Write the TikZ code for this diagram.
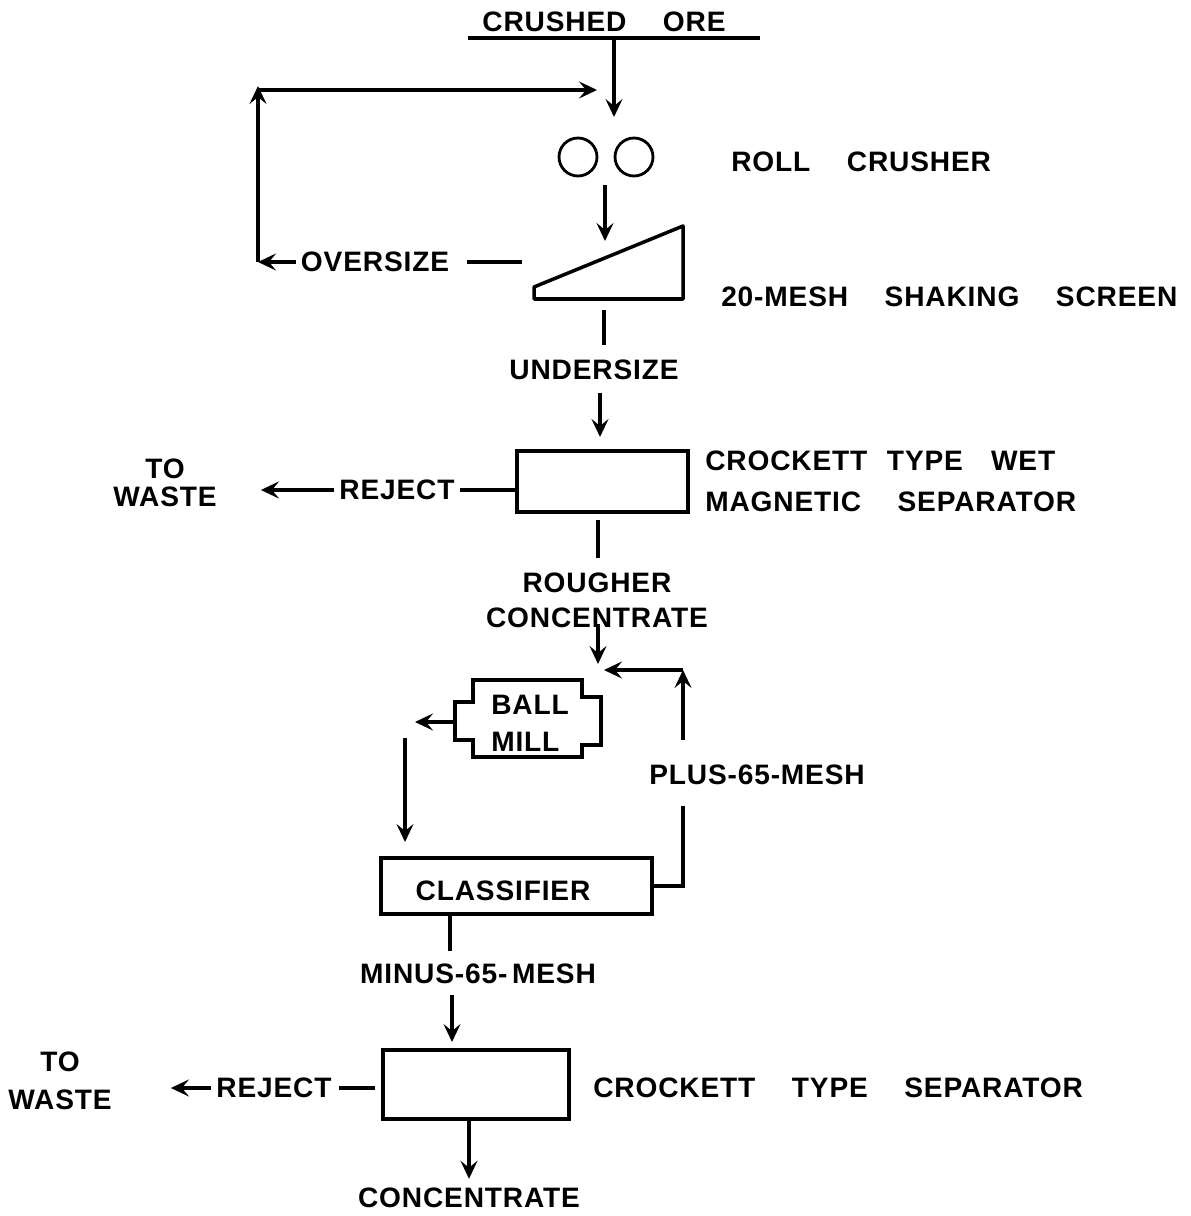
\documentclass[tikz,border=0pt]{standalone}
\usepackage{fontspec}
\setsansfont{Liberation Sans}[LetterSpace=3]
\usetikzlibrary{arrows.meta, positioning}
\newcommand\labfont{\sffamily\bfseries\fontsize{16}{20}\selectfont\spaceskip=1.3em\relax}
\tikzset{
  every picture/.style={line width=2pt},
  lab/.style={font=\labfont, inner sep=2pt, align=center},
  unit/.style={draw, inner sep=0pt},
  flow/.style={-{Stealth[length=3.6mm, width=3.4mm, inset=1.4mm]}},
}

\begin{document}
\begin{tikzpicture}[x=0.02cm, y=-0.02cm]
  \useasboundingbox (0,0) rectangle (1190,1216);
  % feed and roll crusher
  \node[lab] (ore) at (604,22) {CRUSHED ORE};
  \coordinate (oreL) at (468,38);
  \coordinate (oreR) at (760,38);
  \draw (oreL) -- (oreR);
  \coordinate (feed) at (614,38);
  \coordinate (crushin) at (614,117);
  \draw[flow] (feed) -- (crushin);
  \foreach \i/\x in {1/578,2/634} \node[unit, circle, line width=1.6pt, minimum size=0.76cm] (roll\i) at (\x,157) {};
  \node[lab, anchor=west] (crusher) at (726,162) {ROLL CRUSHER};
  \coordinate (crushout) at (605,185);
  \coordinate (screenin) at (605,241);
  \draw[flow] (crushout) -- (screenin);
  % shaking screen
  \coordinate (scrA) at (534,287);
  \coordinate (scrB) at (683,226);
  \coordinate (scrC) at (683,299);
  \coordinate (scrD) at (534,299);
  \draw[line join=round] (scrA) -- (scrB) -- (scrC) -- (scrD) -- cycle;
  \node[lab, anchor=west] (screen) at (716,297) {20-MESH SHAKING SCREEN};
  % oversize back to crusher
  \node[lab] (over) at (375,262) {OVERSIZE};
  \coordinate (overout) at (522,262);
  \draw[shorten >=0.25cm] (overout) -- (over.east);
  \coordinate (loopB) at (258,262);
  \coordinate (loopT) at (258,86);
  \coordinate (loopC) at (258,90);
  \coordinate (crushfeed) at (597,90);
  \draw[flow] (over.west) -- (loopB);
  \draw[flow] (loopB) -- (loopT);
  \draw[flow] (loopC) -- (crushfeed);
  % undersize to wet separator
  \coordinate (scrout) at (604,310);
  \node[lab] (under) at (594,370) {UNDERSIZE};
  \draw[shorten >=0.2cm] (scrout) -- (under.north -| scrout);
  \coordinate (wetin) at (600,437);
  \draw[flow, shorten <=0.15cm] (under.south -| wetin) -- (wetin);
  \node[unit, minimum width=3.42cm, minimum height=1.22cm] (wet) at (602.5,481.5) {};
  \node[lab, anchor=west, align=left] (wetlab) at (700,481.5) {CROCKETT\hspace{0.7em}TYPE\hspace{1em}WET\\[3pt]MAGNETIC SEPARATOR};
  \node[lab] (rej1) at (397,490) {REJECT};
  \draw (wet.west |- rej1.east) -- (rej1.east);
  \node[lab] (waste1) at (165,483) {TO\\[-4pt]WASTE};
  \draw[flow, shorten >=0.78cm] (rej1.west) -- (waste1.east |- rej1.west);
  % rougher concentrate
  \coordinate (wetout) at (598,520);
  \node[lab] (rough) at (597,600) {ROUGHER\\CONCENTRATE};
  \draw[shorten >=0.18cm] (wetout) -- (rough.north -| wetout);
  \coordinate (roughout) at (598,624);
  \coordinate (join) at (598,664);
  \draw[flow] (roughout) -- (join);
  % grinding circuit
  \coordinate (plusup) at (683,740);
  \coordinate (plustop) at (683,670);
  \coordinate (jointip) at (604,670);
  \draw[flow] (plusup) -- (plustop);
  \draw[flow] (plustop) -- (jointip);
  \node[lab] (plus) at (757,775) {PLUS-65-MESH};
  \node[lab, anchor=west, align=left] (mill) at (486,723) {BALL\\[1pt]MILL};
  \draw (473,680) -- (582,680) -- (582,697) -- (601,697) -- (601,745) -- (582,745) -- (582,757)
    -- (473,757) -- (473,740) -- (455,740) -- (455,702) -- (473,702) -- cycle;
  \coordinate (millout) at (455,722);
  \coordinate (millL) at (415,722);
  \draw[flow] (millout) -- (millL);
  \coordinate (clfin) at (405,738);
  \coordinate (clftop) at (405,842);
  \draw[flow] (clfin) -- (clftop);
  \node[unit, minimum width=5.42cm, minimum height=1.12cm] (clf) at (516.5,886) {};
  \node[lab] (clflab) at (503,891) {CLASSIFIER};
  \coordinate (plusdn) at (683,806);
  \draw (plusdn) |- (clf.east);
  % final separation
  \coordinate (clfout) at (450,914);
  \node[lab] (minus) at (478,974) {MINUS-65-\,MESH};
  \draw[shorten >=0.16cm] (clfout) -- (minus.north -| clfout);
  \coordinate (sepin) at (452,1042);
  \draw[flow, shorten <=0.12cm] (minus.south -| sepin) -- (sepin);
  \node[unit, minimum width=3.72cm, minimum height=1.38cm] (sep) at (476,1084.5) {};
  \node[lab, anchor=west] (seplab) at (588,1088) {CROCKETT TYPE SEPARATOR};
  \node[lab] (rej2) at (274,1088) {REJECT};
  \draw[shorten <=0.12cm, shorten >=0.05cm] (sep.west |- rej2.east) -- (rej2.east);
  \node[lab] (waste2) at (60,1081) {TO\\[1.5pt]WASTE};
  \draw[flow, shorten >=1.08cm] (rej2.west) -- (waste2.east |- rej2.west);
  \node[lab] (conc) at (469,1198) {CONCENTRATE};
  \draw[flow, shorten >=0.08cm] (sep.south -| conc.north) -- (conc.north);
\end{tikzpicture}
\end{document}
